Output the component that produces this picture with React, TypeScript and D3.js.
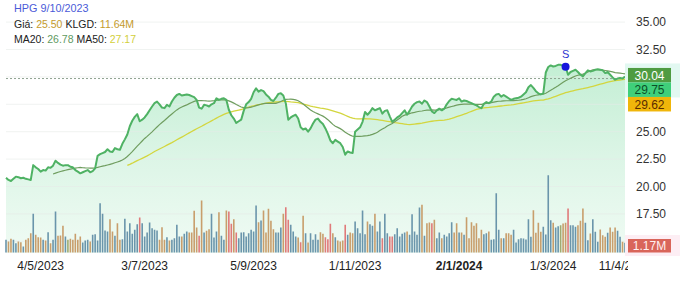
import React from 'react';
import * as d3 from 'd3';

// Daily closing prices (HPG), Apr 2023 – Apr 2024
const closes: number[] = [
  20.8, 20.6, 20.5, 20.7, 20.9, 20.85, 20.75, 20.8, 20.7, 20.65,
  20.6, 21.95, 21.75, 21.6, 21.35, 21.5, 21.45, 21.75, 21.7, 21.9,
  22.35, 22.15, 22.0, 21.9, 21.95, 21.95, 21.8, 21.75, 21.5, 21.35,
  21.2, 21.3, 21.4, 21.5, 21.3, 21.4, 21.65, 22.8, 22.95, 23.05,
  23.15, 23.4, 23.2, 23.15, 23.5, 23.4, 23.35, 23.9, 24.3, 24.75,
  25.5, 26.0, 26.35, 26.6, 25.95, 26.1, 26.3, 26.6, 26.95, 27.3,
  27.6, 27.75, 27.5, 27.2, 27.15, 27.45, 27.3, 27.75, 28.1, 28.35,
  28.45, 28.3, 28.35, 28.4, 28.35, 28.25, 28.15, 27.9, 27.2, 27.1,
  27.45, 27.4, 27.3, 27.5, 27.6, 28.05, 27.9, 28.0, 28.05, 27.9,
  27.0, 26.5, 26.2, 25.8, 25.95, 26.1, 26.9, 27.5, 27.7, 28.0,
  28.6, 28.95, 28.65, 28.8, 28.7, 28.4, 28.2, 27.9, 27.8, 28.1,
  28.45, 28.5, 28.3, 27.6, 26.1, 26.3, 26.45, 26.55, 26.2, 25.4,
  25.2, 25.3, 25.0, 25.3, 25.75, 26.1, 26.2, 25.9, 25.7, 25.3,
  24.8, 24.2, 23.95, 24.25, 24.1, 23.95, 23.6, 22.9, 23.2, 23.1,
  23.05, 25.0, 25.2, 25.4, 25.9, 26.8, 26.55, 26.8, 27.15, 26.95,
  27.05, 27.15, 26.65, 26.9, 26.95, 26.4, 25.9, 26.1, 26.3, 26.45,
  26.7, 26.95, 26.55, 26.9, 27.3, 27.55, 27.7, 27.75, 27.55, 27.85,
  27.7, 27.3, 26.85, 26.7, 26.95, 27.1, 26.95, 27.1, 27.5, 27.8,
  28.0, 27.95, 27.9, 28.05, 27.75, 27.85, 27.8, 27.7, 27.6, 27.5,
  27.4, 27.25, 27.15, 27.55, 27.7, 27.6, 27.75, 28.2, 28.4, 28.45,
  28.2, 28.35, 28.2, 28.05, 27.9, 28.0, 28.05, 28.1, 28.2, 28.4,
  28.6, 29.05, 29.25, 29.0, 28.7, 28.5, 28.4, 28.5, 30.4, 30.9,
  31.05, 30.95, 31.0, 31.1, 31.1, 31.0, 30.93, 30.2, 30.45, 30.55,
  30.65, 30.45, 30.2, 30.05, 30.35, 30.6, 30.5, 30.55, 30.65, 30.7,
  30.65, 30.6, 30.35, 30.45, 30.2, 29.95, 29.75, 29.85, 29.9, 29.85,
  30.04,
];

// Daily volume (millions of shares)
const volumes: number[] = [
  10.2, 8.8, 11.0, 10.2, 7.4, 8.8, 8.2, 4.8, 10.2, 11.4,
  15.4, 31.0, 14.2, 12.2, 12.0, 10.2, 9.6, 16.2, 7.4, 10.2,
  32.8, 13.4, 13.6, 21.4, 12.8, 10.2, 11.0, 10.2, 15.0, 10.2,
  12.8, 8.0, 9.6, 10.2, 8.8, 14.2, 14.6, 9.6, 39.4, 31.0,
  17.6, 16.8, 26.6, 16.8, 13.4, 23.4, 10.2, 10.6, 27.0, 16.8,
  23.4, 15.0, 18.2, 22.6, 28.0, 23.4, 12.8, 16.0, 24.0, 19.4,
  18.2, 17.6, 10.2, 20.2, 10.2, 12.2, 9.6, 10.2, 11.4, 22.2,
  12.8, 12.8, 15.0, 16.8, 16.0, 16.0, 33.4, 20.0, 13.4, 41.6,
  16.0, 17.4, 18.6, 31.0, 12.0, 16.8, 32.2, 13.4, 10.2, 33.6,
  32.8, 23.0, 26.6, 16.0, 11.4, 16.0, 16.2, 12.8, 15.4, 18.2,
  16.8, 37.6, 24.2, 25.6, 33.6, 16.0, 35.0, 25.4, 18.6, 16.0,
  16.0, 20.0, 31.0, 36.2, 26.2, 22.2, 16.8, 12.8, 12.0, 8.2,
  29.4, 15.4, 8.0, 15.4, 10.2, 14.6, 10.2, 16.2, 15.0, 12.2,
  10.6, 23.0, 15.4, 12.2, 9.6, 8.8, 9.6, 22.2, 14.2, 16.0,
  15.4, 24.8, 19.4, 15.4, 33.6, 14.6, 24.8, 22.6, 21.4, 31.0,
  16.8, 24.8, 11.4, 31.0, 15.4, 12.8, 12.8, 14.6, 19.4, 12.8,
  15.0, 16.0, 16.8, 14.2, 30.6, 16.8, 14.2, 36.0, 38.2, 13.4,
  23.4, 24.0, 23.4, 26.2, 11.4, 16.0, 11.4, 14.2, 12.8, 15.4,
  24.2, 16.0, 23.4, 16.0, 16.0, 14.2, 28.2, 11.4, 24.2, 21.4,
  23.4, 11.4, 18.2, 14.6, 15.4, 16.8, 10.2, 10.6, 47.4, 18.2,
  11.4, 11.4, 15.4, 15.4, 14.2, 18.2, 8.0, 10.6, 11.4, 11.2,
  10.4, 26.6, 12.6, 33.8, 15.8, 23.8, 16.6, 20.6, 14.4, 61.8,
  25.8, 23.8, 20.0, 21.0, 21.8, 23.2, 23.8, 35.2, 21.8, 21.8,
  20.6, 21.8, 25.4, 35.2, 23.8, 9.8, 15.2, 26.6, 16.6, 8.6,
  18.4, 13.8, 12.6, 15.8, 20.0, 16.6, 20.0, 17.4, 12.6, 8.6,
  7.8,
];

// X axis tick labels (dd/mm/yyyy) at their trading-day index
const xTickIdx: number[] = [14, 56, 100, 141, 183, 221, 250];
const xTickLabels: string[] = ['4/5/2023', '3/7/2023', '5/9/2023', '1/11/2023', '2/1/2024', '1/3/2024', '11/4/2024'];
const xTickBold: boolean[] = [false, false, false, false, true, false, false];

// Y axis ticks (price); labels at 15, 27.5 and 30 are covered by the value boxes
const yTicks: number[] = [15, 17.5, 20, 22.5, 25, 27.5, 30, 32.5, 35];
const yTickLabelled: number[] = [17.5, 20, 22.5, 25, 32.5, 35];

// Header texts
const symbol = 'HPG';
const hoverDate = '9/10/2023';
const hoverPrice = '25.50';
const hoverVolume = '11.64M';
const hoverMA20 = '26.78';
const hoverMA50 = '27.17';

// Right-side last value labels
const lastPriceLabel = '30.04';
const lastMA20Label = '29.75';
const lastMA50Label = '29.62';
const lastVolumeLabel = '1.17M';

// Signal marker
const signalIndex = 226;
const signalText = 'S';

const W = 680;
const H = 281;

function movingAvg(data: number[], n: number): (number | null)[] {
  return data.map((_, i) => (i < n - 1 ? null : (d3.mean(data.slice(i - n + 1, i + 1)) as number)));
}

export default function App() {
  const n = closes.length;
  const x = d3.scaleLinear().domain([0, n - 1]).range([6, 625]);
  const y = d3.scaleLinear().domain([15, 35]).range([241.3, 22.1]);
  const yv = d3.scaleLinear().domain([0, 80]).range([252.5, 152.5]);
  const bottom = 253;

  const ma20 = movingAvg(closes, 20);
  const ma50 = movingAvg(closes, 50);

  const priceLine = d3.line<number>().x((_, i) => x(i)).y((d) => y(d))(closes) || '';
  const priceArea = d3.area<number>().x((_, i) => x(i)).y0(bottom).y1((d) => y(d))(closes) || '';
  const maLine = d3
    .line<number | null>()
    .defined((d) => d != null)
    .x((_, i) => x(i))
    .y((d) => y(d as number));

  const refPrice = closes[n - 2];
  const lastY = y(closes[n - 1]);

  const font = '"Liberation Sans", Arial, Helvetica, sans-serif';

  const barColor = (i: number) => {
    if (i === 0) return '#6a95ab';
    const ch = (closes[i] - closes[i - 1]) / closes[i - 1];
    if (ch < -0.015) return '#e07a7a';
    if (ch < 0) return '#c89e6c';
    if (ch === 0) return '#a0ab70';
    return '#6a95ab';
  };

  return (
    <svg
      width={W}
      height={H}
      style={{ position: 'absolute', left: 0, top: 0, background: '#fff', fontFamily: font }}
    >
      <defs>
        <linearGradient id="fillG" gradientUnits="userSpaceOnUse" x1="0" y1="60" x2="0" y2={bottom}>
          <stop offset="0" stopColor="#c2eed3" />
          <stop offset="0.5" stopColor="#dcf5e6" />
          <stop offset="1" stopColor="#f0fbf4" />
        </linearGradient>
        <clipPath id="plotClip">
          <rect x={0} y={0} width={628} height={H} />
        </clipPath>
      </defs>

      {/* price area fill */}
      <path d={priceArea} fill="url(#fillG)" />

      {/* grid lines */}
      {yTicks.map((t) => (
        <line key={t} x1={6} x2={625} y1={y(t)} y2={y(t)} stroke="#e6ebe8" strokeOpacity={0.6} strokeWidth={1} />
      ))}

      {/* volume bars */}
      {volumes.map((v, i) => (
        <rect
          key={i}
          x={x(i) - 0.8}
          width={1.6}
          y={yv(v)}
          height={yv(0) - yv(v)}
          fill={barColor(i)}
        />
      ))}

      {/* reference (previous close) dotted line */}
      <line x1={6} x2={625} y1={y(refPrice)} y2={y(refPrice)} stroke="#8fa391" strokeWidth={1} strokeDasharray="2,2" />

      {/* moving averages */}
      <path d={maLine(ma50) || ''} fill="none" stroke="#d3d63e" strokeWidth={1.3} />
      <path d={maLine(ma20) || ''} fill="none" stroke="#6f9d5f" strokeWidth={1.2} />

      {/* price line */}
      <path d={priceLine} fill="none" stroke="#4fb264" strokeWidth={2} strokeLinejoin="round" />

      {/* signal marker */}
      <circle cx={x(signalIndex)} cy={y(closes[signalIndex])} r={4} fill="#1616dc" />
      <text x={x(signalIndex)} y={y(closes[signalIndex]) - 9} textAnchor="middle" fontSize={11} fill="#2b35d0">
        {signalText}
      </text>

      {/* y axis labels */}
      {yTickLabelled.map((t) => (
        <text key={t} x={666} y={y(t)} dy="0.35em" textAnchor="end" fontSize={12} fill="#333">
          {t.toFixed(2)}
        </text>
      ))}

      {/* right value boxes */}
      <rect x={625} y={lastY - 13} width={55} height={34} fill="#e2f8f1" />
      <rect x={628} y={lastY - 8.5} width={43} height={14.5} fill="#4f9b41" />
      <text x={649.5} y={lastY - 1.25} dy="0.36em" textAnchor="middle" fontSize={12} fill="#ffffff">
        {lastPriceLabel}
      </text>
      <rect x={628} y={lastY + 6} width={43} height={14.5} fill="#3fcf7a" />
      <text x={649.5} y={lastY + 13.25} dy="0.36em" textAnchor="middle" fontSize={12} fill="#0c4f27">
        {lastMA20Label}
      </text>
      <rect x={628} y={lastY + 20.5} width={43} height={14.5} fill="#f0b60a" />
      <text x={649.5} y={lastY + 27.75} dy="0.36em" textAnchor="middle" fontSize={12} fill="#5a2c00">
        {lastMA50Label}
      </text>

      <rect x={625} y={235} width={55} height={21} fill="#fdeef4" />
      <rect x={628} y={239} width={43} height={13.5} fill="#d9655a" />
      <text x={649.5} y={245.75} dy="0.36em" textAnchor="middle" fontSize={12} fill="#fff1f1">
        {lastVolumeLabel}
      </text>

      {/* x axis labels */}
      <g clipPath="url(#plotClip)">
        {xTickIdx.map((idx, k) => (
          <text
            key={k}
            x={x(idx)}
            y={270}
            textAnchor="middle"
            fontSize={12}
            fontWeight={xTickBold[k] ? 'bold' : 'normal'}
            fill="#222"
          >
            {xTickLabels[k]}
          </text>
        ))}
      </g>

      {/* header */}
      <text x={14} y={12} fontSize={10.8} fill="#4a5ad8">
        {symbol} {hoverDate}
      </text>
      <text x={14} y={28} fontSize={10.5} fill="#222">
        Giá: <tspan fill="#c49a2c">{hoverPrice}</tspan> KLGD: <tspan fill="#c49a2c">{hoverVolume}</tspan>
      </text>
      <text x={14} y={43} fontSize={10.5} fill="#222">
        MA20: <tspan fill="#5f9a5f">{hoverMA20}</tspan> MA50: <tspan fill="#d2cf3a">{hoverMA50}</tspan>
      </text>
    </svg>
  );
}
